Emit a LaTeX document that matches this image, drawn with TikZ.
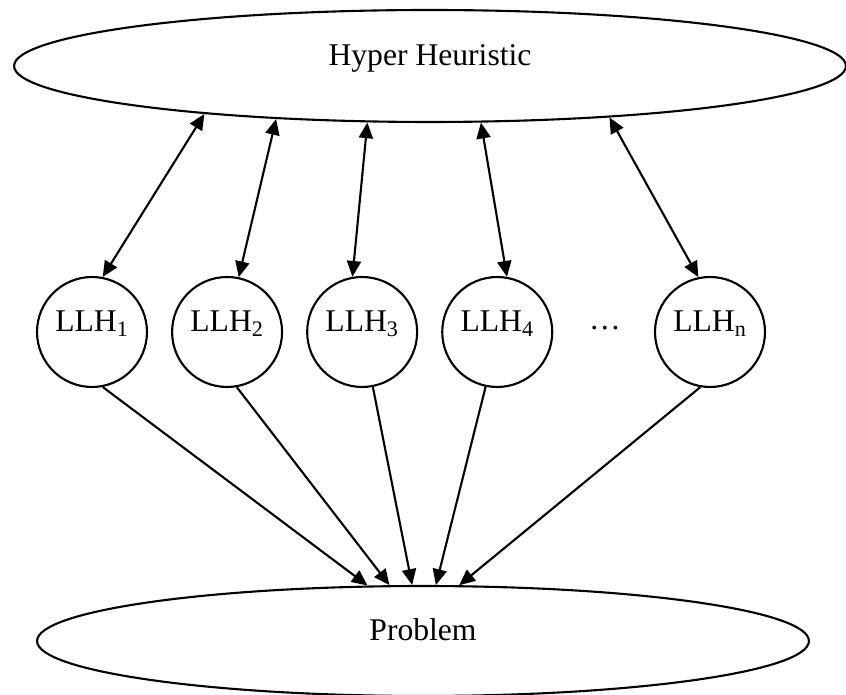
\documentclass[tikz,border=0pt]{standalone}
\usepackage{fontspec}
\setmainfont{Liberation Serif}
\usetikzlibrary{shapes.geometric, arrows.meta, positioning}

\begin{document}
\begin{tikzpicture}[
  x=0.02cm, y=-0.02cm,
  font=\fontsize{18}{21}\selectfont,
  blob/.style={ellipse, draw, line width=1.2pt, inner sep=0pt, text height=0.7em, text depth=0.7em},
  llh/.style={circle, draw, line width=1.2pt, minimum size=2.2cm, inner sep=0pt, text height=0.7em, text depth=0.7em},
  arrow/.style={-{Triangle[length=9pt, width=8pt]}, line width=1.2pt},
  biarrow/.style={{Triangle[length=9pt, width=8pt]}-{Triangle[length=9pt, width=8pt]}, line width=1.2pt}
]
  \useasboundingbox (0,0) rectangle (846,695);

  % Ellipses haut et bas
  \node[blob, minimum width=16.64cm, minimum height=2.24cm] (hh) at (430,66) {Hyper Heuristic};
  \node[blob, minimum width=15.44cm, minimum height=2.2cm] (prob) at (423,641) {Problem};

  % Heuristiques de bas niveau
  \node[llh] (llh1) at (92,332) {LLH\textsubscript{1}};
  \node[llh, right=0.46cm of llh1] (llh2) {LLH\textsubscript{2}};
  \node[llh, right=0.46cm of llh2] (llh3) {LLH\textsubscript{3}};
  \node[llh, right=0.46cm of llh3] (llh4) {LLH\textsubscript{4}};
  \node[llh] (llhn) at (710,332) {LLH\textsubscript{n}};
  \node[anchor=base] (dots) at (605,330) {…};

  % Flèches doubles vers l'hyper-heuristique
  \draw[biarrow] (llh1.79) -- (hh.192.5);
  \draw[biarrow] (llh2.78) -- (hh.199);
  \draw[biarrow] (llh3.100) -- (hh.222);
  \draw[biarrow] (llh4.80) -- (hh.312);
  \draw[biarrow] (llhn.102) -- (hh.344.6);

  % Flèches vers le problème
  \draw[arrow] (llh1.281) -- (prob.135.8);
  \draw[arrow] (llh2.280) -- (prob.121);
  \draw[arrow] (llh3.281) -- (prob.101.3);
  \draw[arrow] (llh4.258) -- (prob.77.7);
  \draw[arrow] (llhn.260) -- (prob.57.5);

\end{tikzpicture}
\end{document}
